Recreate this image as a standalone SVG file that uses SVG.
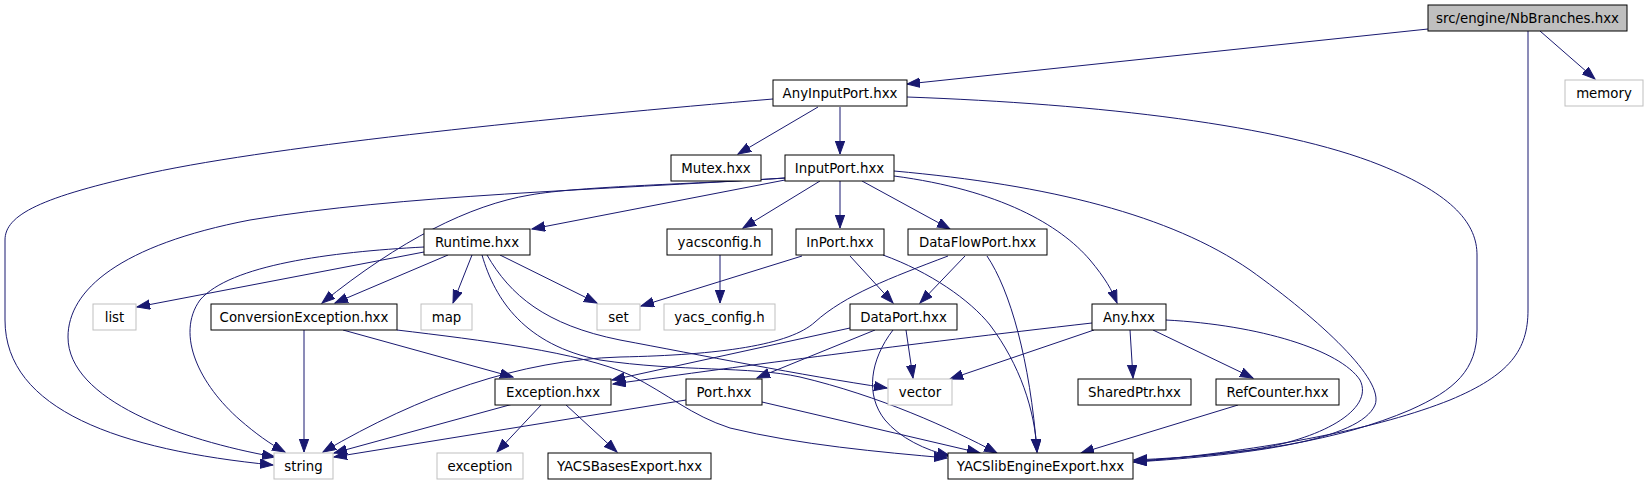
<svg xmlns="http://www.w3.org/2000/svg" width="1648" height="485" viewBox="0 0 1648 485">
<style>
.n rect{fill:#ffffff;stroke:#000000;stroke-width:1}
.g rect{fill:#ffffff;stroke:#bfbfbf;stroke-width:1}
.r rect{fill:#bfbfbf;stroke:#000000;stroke-width:1}
text{font-family:"DejaVu Sans","Liberation Sans",sans-serif;font-size:13.33px;fill:#000000;text-anchor:middle}
#edges path{fill:none;stroke:#191970;stroke-width:1;marker-end:url(#arr)}
</style>
<defs>
<marker id="arr" markerUnits="userSpaceOnUse" markerWidth="14" markerHeight="11" refX="13" refY="5" orient="auto">
<path d="M0,0.3 L13,5 L0,9.7 z" fill="#191970" stroke="#191970" stroke-width="1"/>
</marker>
</defs>
<rect width="1648" height="485" fill="#ffffff"/>
<g id="edges">
<path d="M1428,29 L907,84"/>
<path d="M1540,31 L1595,79"/>
<path d="M1528,31 L1528,310 C1528,350 1510,375 1450,400 C1380,428 1270,450 1134,462"/>
<path d="M907,97 C1100,104 1280,125 1380,165 C1455,195 1477,225 1477,255 L1477,330 C1477,370 1455,390 1410,410 C1340,440 1250,455 1134,460"/>
<path d="M773,99 C560,117 280,145 150,173 C40,197 5,215 5,240 L5,320 C5,410 120,450 273,465"/>
<path d="M818,107 L738,154"/>
<path d="M840,107 L840,154"/>
<path d="M785,180 L532,229"/>
<path d="M785,178 C700,184 580,186 530,195 C470,205 400,240 322,303"/>
<path d="M785,178 C600,190 400,195 250,220 C120,245 68,290 68,337 C68,400 180,440 275,457"/>
<path d="M820,181 L743,228"/>
<path d="M840,181 L840,228"/>
<path d="M862,181 L950,229"/>
<path d="M894,176 C1000,190 1060,225 1090,260 C1105,278 1112,290 1117,303"/>
<path d="M894,171 C1050,185 1170,215 1250,270 C1320,320 1385,380 1375,405 C1360,440 1250,455 1134,462"/>
<path d="M424,252 L137,307"/>
<path d="M448,255 L335,303"/>
<path d="M472,255 L453,303"/>
<path d="M500,255 L597,303"/>
<path d="M424,247 C330,252 230,265 200,300 C175,335 200,385 240,420 C255,433 270,444 285,452"/>
<path d="M487,255 C510,295 545,325 620,340 C700,355 800,375 887,388"/>
<path d="M482,255 C495,300 525,345 600,360 C680,372 750,366 800,377 C880,396 950,428 997,453"/>
<path d="M720,255 L720,303"/>
<path d="M802,256 L641,306"/>
<path d="M850,256 L893,303"/>
<path d="M883,255 C930,272 970,300 990,325 C1020,365 1035,410 1037,452"/>
<path d="M965,256 L920,303"/>
<path d="M948,256 C890,278 845,295 815,322 C790,345 720,355 620,357 C520,360 420,395 323,452"/>
<path d="M987,256 C1010,290 1030,360 1037,452"/>
<path d="M304,330 L304,452"/>
<path d="M343,330 L513,377"/>
<path d="M397,330 C480,340 580,352 630,375 C670,395 690,415 730,428 C800,445 880,452 947,458"/>
<path d="M850,328 L612,380"/>
<path d="M875,330 L757,378"/>
<path d="M906,330 L913,378"/>
<path d="M893,330 C870,360 865,395 885,420 C900,438 925,450 950,456"/>
<path d="M1092,323 C900,345 750,365 613,384"/>
<path d="M1094,330 L950,379"/>
<path d="M1130,330 L1133,378"/>
<path d="M1153,330 L1253,378"/>
<path d="M1166,320 C1260,325 1340,350 1360,380 C1375,410 1320,440 1250,450 C1200,456 1170,459 1134,461"/>
<path d="M513,404 L334,453"/>
<path d="M542,404 L497,452"/>
<path d="M565,404 L617,452"/>
<path d="M686,400 L334,457"/>
<path d="M762,402 L980,453"/>
<path d="M1238,405 L1081,453"/>
</g>
<g id="node1" class="r"><rect x="1428" y="5" width="199" height="26"/><text x="1527.5" y="23">src/engine/NbBranches.hxx</text></g>
<g id="node2" class="n"><rect x="773" y="80" width="134" height="26"/><text x="840" y="98">AnyInputPort.hxx</text></g>
<g id="node3" class="g"><rect x="1565" y="80" width="78" height="26"/><text x="1604" y="98">memory</text></g>
<g id="node4" class="n"><rect x="671" y="155" width="90" height="26"/><text x="716" y="173">Mutex.hxx</text></g>
<g id="node5" class="n"><rect x="785" y="155" width="109" height="26"/><text x="839.5" y="173">InputPort.hxx</text></g>
<g id="node6" class="n"><rect x="424" y="229" width="106" height="26"/><text x="477" y="247">Runtime.hxx</text></g>
<g id="node7" class="n"><rect x="667" y="229" width="105" height="26"/><text x="719.5" y="247">yacsconfig.h</text></g>
<g id="node8" class="n"><rect x="796" y="229" width="88" height="26"/><text x="840" y="247">InPort.hxx</text></g>
<g id="node9" class="n"><rect x="908" y="229" width="139" height="26"/><text x="977.5" y="247">DataFlowPort.hxx</text></g>
<g id="node10" class="g"><rect x="93" y="304" width="43" height="26"/><text x="114.5" y="322">list</text></g>
<g id="node11" class="n"><rect x="211" y="304" width="186" height="26"/><text x="304" y="322">ConversionException.hxx</text></g>
<g id="node12" class="g"><rect x="421" y="304" width="51" height="26"/><text x="446.5" y="322">map</text></g>
<g id="node13" class="g"><rect x="597" y="304" width="43" height="26"/><text x="618.5" y="322">set</text></g>
<g id="node14" class="g"><rect x="664" y="304" width="111" height="26"/><text x="719.5" y="322">yacs_config.h</text></g>
<g id="node15" class="n"><rect x="850" y="304" width="107" height="26"/><text x="903.5" y="322">DataPort.hxx</text></g>
<g id="node16" class="n"><rect x="1092" y="304" width="74" height="26"/><text x="1129" y="322">Any.hxx</text></g>
<g id="node17" class="n"><rect x="495" y="379" width="116" height="26"/><text x="553" y="397">Exception.hxx</text></g>
<g id="node18" class="n"><rect x="686" y="379" width="76" height="26"/><text x="724" y="397">Port.hxx</text></g>
<g id="node19" class="g"><rect x="888" y="379" width="64" height="26"/><text x="920" y="397">vector</text></g>
<g id="node20" class="n"><rect x="1078" y="379" width="113" height="26"/><text x="1134.5" y="397">SharedPtr.hxx</text></g>
<g id="node21" class="n"><rect x="1216" y="379" width="123" height="26"/><text x="1277.5" y="397">RefCounter.hxx</text></g>
<g id="node22" class="g"><rect x="274" y="453" width="59" height="26"/><text x="303.5" y="471">string</text></g>
<g id="node23" class="g"><rect x="437" y="453" width="86" height="26"/><text x="480" y="471">exception</text></g>
<g id="node24" class="n"><rect x="548" y="453" width="163" height="26"/><text x="629.5" y="471">YACSBasesExport.hxx</text></g>
<g id="node25" class="n"><rect x="948" y="453" width="185" height="26"/><text x="1040.5" y="471">YACSlibEngineExport.hxx</text></g>
</svg>
